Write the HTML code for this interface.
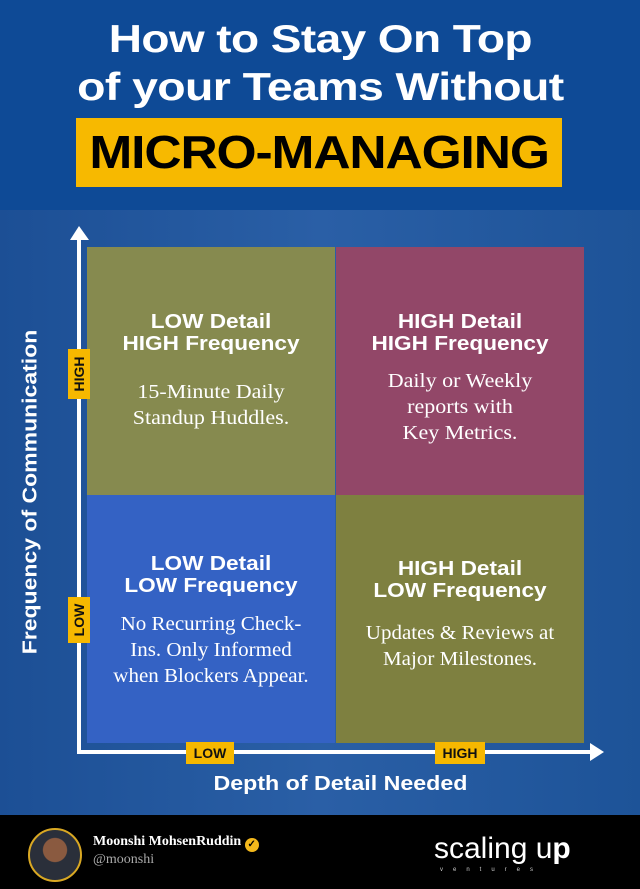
<!DOCTYPE html>
<html><head><meta charset="utf-8"><style>
*{margin:0;padding:0;box-sizing:border-box}
body{width:640px;height:889px;overflow:hidden;background:#1d4f98;font-family:"Liberation Sans",sans-serif;position:relative}
.a{position:absolute}
.t{color:#fff;font-weight:bold;text-align:center;width:640px;font-size:39px;letter-spacing:-0.5px}
.sx{display:inline-block}
.q{position:absolute;width:248px;height:248px;color:#fff;text-align:center}
.h{font-weight:bold;font-size:20px;line-height:22px;transform:scaleX(1.13)}
.b{font-family:"Liberation Serif",serif;font-size:20px;line-height:26px;transform:scaleX(1.1)}
.tag{position:absolute;background:#f6b800;color:#111;font-weight:bold;font-size:14px;text-align:center}
</style></head><body>
<div class="a" style="left:0;top:0;width:640px;height:210px;background:#0e4a96"></div>
<div class="a" style="left:0;top:210px;width:640px;height:605px;background:linear-gradient(90deg,#1c4f95,#2a5fa6 50%,#1d5398)"></div>
<div class="a t" style="top:18px"><span class="sx" style="transform:scaleX(1.18)">How to Stay On Top</span></div>
<div class="a t" style="top:66px"><span class="sx" style="transform:scaleX(1.19)">of your Teams Without</span></div>
<div class="a" style="left:76px;top:118px;width:486px;height:69px;background:#f7b900;color:#000;font-weight:bold;font-size:46px;text-align:center;line-height:69px;letter-spacing:-1px"><span class="sx" style="transform:scaleX(1.12)">MICRO-MANAGING</span></div>

<div class="q" style="left:87px;top:247px;background:#868a4f"><div class="h" style="margin-top:64px">LOW Detail<br>HIGH Frequency</div><div class="b" style="margin-top:24px">15-Minute Daily<br>Standup Huddles.</div></div>
<div class="q" style="left:336px;top:247px;background:#924768"><div class="h" style="margin-top:64px">HIGH Detail<br>HIGH Frequency</div><div class="b" style="margin-top:13px">Daily or Weekly<br>reports with<br>Key Metrics.</div></div>
<div class="q" style="left:87px;top:495px;background:#3462c4"><div class="h" style="margin-top:58px">LOW Detail<br>LOW Frequency</div><div class="b" style="margin-top:14px;transform:scaleX(1.05)">No Recurring Check-<br>Ins. Only Informed<br>when Blockers Appear.</div></div>
<div class="q" style="left:336px;top:495px;background:#7e8040"><div class="h" style="margin-top:63px">HIGH Detail<br>LOW Frequency</div><div class="b" style="margin-top:18px;transform:scaleX(1.05)">Updates &amp; Reviews at<br>Major Milestones.</div></div>

<svg class="a" style="left:0;top:0" width="640" height="889">
<line x1="79" y1="238" x2="79" y2="752" stroke="#fff" stroke-width="4"/>
<polygon points="70,240 79,226 89,240" fill="#fff"/>
<line x1="77" y1="752" x2="592" y2="752" stroke="#fff" stroke-width="4"/>
<polygon points="590,743 604,752 590,761" fill="#fff"/>
</svg>
<div class="tag" style="left:68px;top:349px;width:22px;height:50px"><div style="transform:rotate(-90deg);position:absolute;left:-14px;top:16px;width:50px;line-height:18px">HIGH</div></div>
<div class="tag" style="left:68px;top:597px;width:22px;height:46px"><div style="transform:rotate(-90deg);position:absolute;left:-12px;top:14px;width:46px;line-height:18px">LOW</div></div>
<div class="tag" style="left:186px;top:742px;width:48px;height:22px;line-height:22px">LOW</div>
<div class="tag" style="left:435px;top:742px;width:50px;height:22px;line-height:22px">HIGH</div>
<div class="a" style="left:31px;top:492px;width:0;height:0"><div style="position:absolute;transform:translate(-50%,-50%) rotate(-90deg) scaleX(1.15);white-space:nowrap;color:#fff;font-weight:bold;font-size:20px">Frequency of Communication</div></div>
<div class="a" style="left:0;top:773px;width:680px;text-align:center;color:#fff;font-weight:bold;font-size:20px"><span class="sx" style="transform:scaleX(1.16)">Depth of Detail Needed</span></div>

<div class="a" style="left:0;top:815px;width:640px;height:74px;background:#000"></div>
<div class="a" style="left:28px;top:828px;width:54px;height:54px;border-radius:50%;border:2px solid #d9a823;background:radial-gradient(circle at 50% 40%,#8a5a40 0 30%,#2a2f3a 32%)"></div>
<div class="a" style="left:93px;top:834px;color:#fff;font-family:'Liberation Serif',serif;font-weight:bold;font-size:14px">Moonshi MohsenRuddin <span style="display:inline-block;width:14px;height:14px;border-radius:50%;background:#f3b81c;color:#000;font-size:10px;text-align:center;line-height:14px;vertical-align:-2px">✓</span></div>
<div class="a" style="left:93px;top:852px;color:#aaa;font-family:'Liberation Serif',serif;font-size:14px">@moonshi</div>
<div class="a" style="left:434px;top:832px;color:#fff;font-size:30px;letter-spacing:0px">scaling u<b>p</b></div>
<div class="a" style="left:440px;top:867px;color:#ccc;font-size:6px;letter-spacing:10px">ventures</div>
</body></html>
